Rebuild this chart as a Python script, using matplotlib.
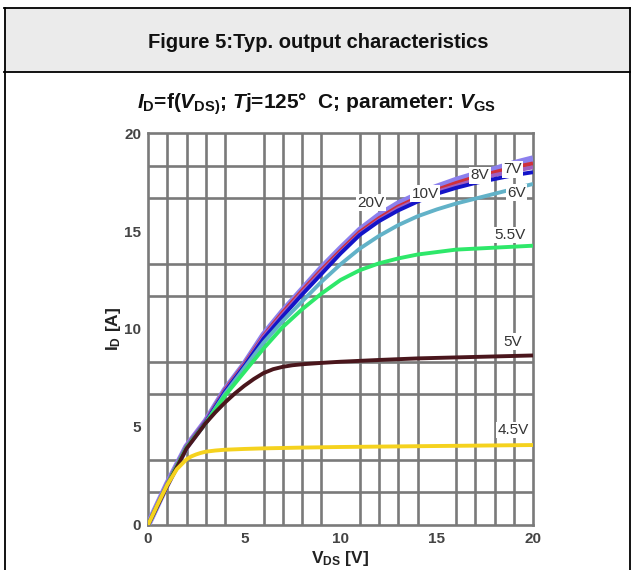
import numpy as np
import matplotlib
matplotlib.use("Agg")
import matplotlib.pyplot as plt
from matplotlib.patches import Rectangle
from matplotlib.lines import Line2D

plt.rcParams['font.family'] = ['Liberation Sans', 'DejaVu Sans']
plt.rcParams['mathtext.fontset'] = 'custom'
plt.rcParams['mathtext.rm'] = 'Liberation Sans:bold'
plt.rcParams['mathtext.it'] = 'Liberation Sans:bold:italic'
plt.rcParams['mathtext.bf'] = 'Liberation Sans:bold'

# ---- data ----
vds = [0, 1, 2, 3, 4, 5, 6, 7, 8, 9, 10, 11, 12, 13, 14, 15, 16, 17, 18, 19, 20]
id_20v = [0, 2.1, 4.0, 5.3, 6.9, 8.2, 9.7, 10.9, 12.0, 13.1, 14.1, 15.05, 15.8, 16.4, 16.85, 17.25, 17.6, 17.9, 18.15, 18.45, 18.7]
id_10v = [0, 2.1, 4.0, 5.3, 6.9, 8.2, 9.65, 10.85, 11.95, 13.0, 14.0, 14.95, 15.65, 16.25, 16.7, 17.1, 17.45, 17.75, 18.0, 18.25, 18.45]
id_8v = [0, 2.1, 4.0, 5.3, 6.85, 8.15, 9.6, 10.75, 11.85, 12.9, 13.9, 14.85, 15.55, 16.15, 16.6, 17.0, 17.3, 17.6, 17.85, 18.05, 18.25]
id_7v = [0, 2.05, 3.95, 5.25, 6.8, 8.1, 9.5, 10.65, 11.75, 12.8, 13.85, 14.8, 15.5, 16.05, 16.5, 16.9, 17.2, 17.45, 17.65, 17.85, 18.0]
id_6v = [0, 2.05, 3.95, 5.2, 6.7, 8.0, 9.3, 10.4, 11.4, 12.4, 13.3, 14.1, 14.75, 15.3, 15.75, 16.1, 16.4, 16.65, 16.9, 17.15, 17.4]
vds_55 = [0, 1, 2, 3, 4, 5, 6, 7, 8, 9, 10, 11, 12, 13, 14, 16, 18, 20]
id_55v = [0, 2.05, 3.95, 5.2, 6.6, 7.8, 9.0, 10.1, 11.0, 11.8, 12.5, 13.0, 13.35, 13.6, 13.8, 14.05, 14.15, 14.25]
vds_5 = [0, 1, 2, 3, 3.5, 4, 4.5, 5, 5.5, 6, 6.5, 7, 7.5, 8, 9, 10, 12, 14, 16, 18, 20]
id_5v = [0, 2.0, 3.9, 5.2, 5.75, 6.25, 6.7, 7.1, 7.45, 7.75, 7.95, 8.07, 8.15, 8.2, 8.27, 8.33, 8.42, 8.5, 8.55, 8.6, 8.65]
vds_45 = [0, 0.5, 1, 1.5, 2, 2.25, 2.5, 2.75, 3, 3.5, 4, 5, 6, 8, 10, 12, 14, 16, 18, 20]
id_45v = [0, 1.05, 2.05, 2.85, 3.35, 3.5, 3.6, 3.68, 3.74, 3.8, 3.84, 3.88, 3.91, 3.95, 3.98, 4.0, 4.02, 4.04, 4.06, 4.08]

labels = ["20V", "10V", "8V", "7V", "6V", "5.5V", "5V", "4.5V"]
label_pos_v = [11.6, 14.4, 17.25, 18.95, 19.15, 18.8, 18.95, 18.95]
label_pos_i = [16.45, 16.9, 17.85, 18.15, 16.95, 14.8, 9.35, 4.85]

xticks = [0, 5, 10, 15, 20]
yticks = [0, 5, 10, 15, 20]

W, H = 631, 570
fig = plt.figure(figsize=(W / 100, H / 100), dpi=100)


def fx(px):
    return px / W


def fy(py):
    return 1 - py / H


fig.patches.append(Rectangle((fx(4), fy(72)), fx(631) - fx(4), fy(8) - fy(72),
                             transform=fig.transFigure, facecolor='#ebebeb',
                             edgecolor='none', zorder=0))
for (x0, y0, x1, y1) in [(4, 8, 631, 8), (4, 72, 631, 72), (4.5, 8, 4.5, 570), (630, 8, 630, 570)]:
    fig.add_artist(Line2D([fx(x0), fx(x1)], [fy(y0), fy(y1)], transform=fig.transFigure,
                          color='black', lw=1.3))

fig.text(fx(318), fy(42), "Figure 5:Typ. output characteristics", ha='center', va='center',
         fontsize=14.5, fontweight='bold', color='#111111')
fig.text(fx(316), fy(104),
         r"$\mathit{I}_{\mathrm{D}}$=f($\mathit{V}_{\mathrm{DS)}}$; $\mathit{T}$j=125°  C; parameter: $\mathit{V}_{\mathrm{GS}}$",
         ha='center', va='center', fontsize=15, fontweight='bold', color='#111111')

ax = fig.add_axes([fx(148), fy(525), fx(533) - fx(148), fy(133) - fy(525)])
ax.set_xlim(0, 20)
ax.set_ylim(0, 20)
gcol = '#7a7a7a'
ax.set_xticks(np.arange(0, 21, 1), minor=True)
ax.set_yticks(np.arange(0, 20.01, 5 / 3), minor=True)
ax.grid(True, which='minor', color=gcol, lw=1.9, zorder=1)
ax.set_xticks(xticks)
ax.set_yticks(yticks)
ax.tick_params(which='both', length=0)
ax.tick_params(axis='x', pad=5)
ax.tick_params(axis='y', pad=5)
for lab in ax.get_xticklabels() + ax.get_yticklabels():
    lab.set_fontweight('bold')
    lab.set_fontsize(11)
    lab.set_color('#444444')
for s in ax.spines.values():
    s.set_color(gcol)
    s.set_linewidth(1.9)

curves = [
    (vds, id_20v, '#8c80ee', 4.6),
    (vds, id_10v, '#d0303a', 2.8),
    (vds, id_8v, '#a060c0', 2.8),
    (vds, id_7v, '#1414c8', 2.8),
    (vds, id_6v, '#62b2c8', 2.8),
    (vds_55, id_55v, '#2ee86a', 2.8),
    (vds_5, id_5v, '#4a161c', 2.8),
    (vds_45, id_45v, '#f5d21e', 2.8),
]
for i, (x, y, c, lw) in enumerate(curves):
    ax.plot(x, y, color=c, lw=lw, zorder=3 + i * 0.01, solid_capstyle='butt',
            solid_joinstyle='round')

for t, xv, yv in zip(labels, label_pos_v, label_pos_i):
    ax.text(xv, yv, t, ha='center', va='center', fontsize=11, color='#333333',
            bbox=dict(facecolor='white', edgecolor='none', pad=1.0), zorder=5)

ax.set_xlabel(r"V$_{\mathrm{DS}}$ [V]", fontsize=12.5, fontweight='bold', color='#222222', labelpad=2)
ax.set_ylabel(r"I$_{\mathrm{D}}$ [A]", fontsize=12.5, fontweight='bold', color='#222222', labelpad=1)

fig.savefig("out.png", dpi=100)
